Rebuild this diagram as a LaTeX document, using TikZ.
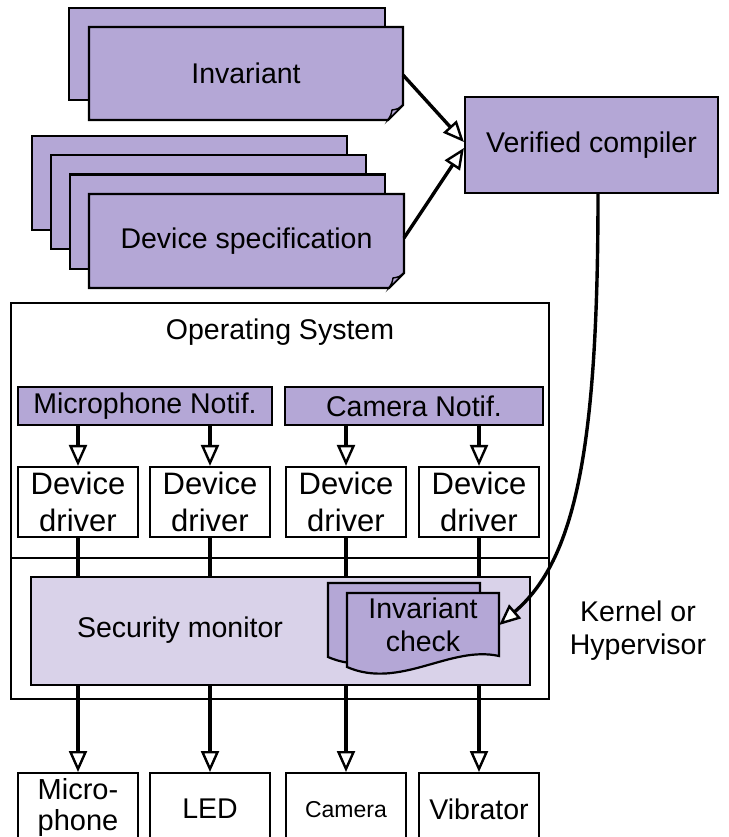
\documentclass[tikz,border=0pt]{standalone}
\usepackage{fontspec}
\setmainfont{Liberation Sans}
\usetikzlibrary{arrows.meta,calc}
\definecolor{cPurp}{HTML}{B4A7D6}
\definecolor{cLav} {HTML}{D9D2E9}
\tikzset{
  box/.style   ={draw=black,line width=2.2pt,fill=white,align=center,inner sep=0pt,
                 font=\fontsize{28.5}{33}\selectfont},
  purp/.style  ={box,fill=cPurp},
  sheet/.style ={draw=black,line width=2.2pt,fill=cPurp,line join=miter},
  lbl/.style   ={align=center,inner sep=0pt,font=\fontsize{28.5}{33}\selectfont},
  sig/.style   ={-{Triangle[fill=white,length=21pt,width=18pt,line width=2.4pt]},
                 line width=3.4pt},
  wire/.style  ={line width=3.4pt},
}
% sheet with a turned-down corner: left, top, right, bottom
\newcommand{\earsheet}[4]{%
  \draw[sheet] (#1,#2) -- (#3,#2) -- (#3,#4-15) -- (#3-15,#4) -- (#1,#4) -- cycle;
  \draw[sheet,line width=1.4pt] (#3,#4-15) .. controls (#3-5,#4-11) .. (#3-11,#4-10)
    .. controls (#3-12,#4-5) .. (#3-15,#4) -- cycle;}
% sheet with a wavy foot: left, top, right, foot at the right
\newcommand{\wavesheet}[4]{%
  \draw[sheet] (#1,#2) -- (#3,#2) -- (#3,#4)
    .. controls (#3-49,#4-11) and (#1+53,#4+34) .. (#1,#4+11) -- cycle;}

\begin{document}
\begin{tikzpicture}[x=1pt, y=-1pt]
\clip (0,0) rectangle (728,837);

% inputs to the compiler
\draw[sheet] (69,8) rectangle (385,100);
\earsheet{89}{27}{403}{120}
\node[lbl] (inv) at (246,73.5) {Invariant};

\foreach \i in {0,1,2}
  \draw[sheet] (32+19*\i,136+19.3*\i) rectangle ++(315,94);
\earsheet{89}{194}{404}{288}
\node[lbl] (spec) at (246.5,241) {Device specification};

\node[purp,minimum width=253pt,minimum height=96pt] (comp) at (591.5,145)
  {Verified compiler};
\draw[sig] (403,75) -- ([yshift=3pt]comp.west);
\draw[sig] (404,238) -- ([yshift=-3pt]comp.west);

% OS and kernel frame
\node[box,minimum width=538pt,minimum height=396pt,anchor=north west] (os) at (10,302) {};
\coordinate (kl) at (10,558);
\draw[line width=2.2pt] (kl) -- (kl -| os.east);
\node[lbl] (ostitle) at (280,332) {Operating System};

\node[purp,minimum width=254pt,minimum height=38pt] (micn) at (145,406) {Microphone Notif.};
\node[purp,minimum width=258pt,minimum height=38pt] (camn) at (414,406) {Camera Notif.};

\foreach \n/\x in {1/78,2/210,3/346,4/479}
  \node[box,minimum width=120pt,minimum height=70pt,font=\fontsize{31}{37}\selectfont]
    (drv\n) at (\x,502) {Device\\driver};

\draw[sig] (micn.south -| drv1.north) -- (drv1.north);
\draw[sig] (micn.south -| drv2.north) -- (drv2.north);
\draw[sig] (camn.south -| drv3.north) -- (drv3.north);
\draw[sig] (camn.south -| drv4.north) -- (drv4.north);

% security monitor
\node[box,fill=cLav,minimum width=499pt,minimum height=108pt] (secm) at (280.5,631) {};
\node[lbl] (secl) at (180,630) {Security monitor};
\foreach \n in {1,2,3,4}
  \draw[wire] (drv\n.south) -- (drv\n.south |- secm.north);

\wavesheet{328}{583}{480}{646}
\wavesheet{347}{593}{499}{656}
\node[lbl,minimum width=152pt,minimum height=63pt] (invchk) at (423,625) {Invariant\\check};

\draw[sig] ([xshift=6.5pt]comp.south) .. controls (598,450) and (575,560) .. (invchk.east);

\node[lbl] (kern) at (638,631) {Kernel or\\Hypervisor};

% devices
\node[box,minimum width=120pt,minimum height=68pt,anchor=north,
      font=\fontsize{29}{31}\selectfont] (dev1) at (78,772) {Micro-\\phone};
\node[box,minimum width=120pt,minimum height=72pt,anchor=north] (dev2) at (210,772) {LED};
\node[box,minimum width=120pt,minimum height=72pt,anchor=north,
      font=\fontsize{23}{27}\selectfont] (dev3) at (346,772) {Camera};
\node[box,minimum width=120pt,minimum height=72pt,anchor=north] (dev4) at (479,772) {Vibrator};
\foreach \n in {1,2,3,4}
  \draw[sig] (dev\n.north |- secm.south) -- (dev\n.north);
\end{tikzpicture}
\end{document}
